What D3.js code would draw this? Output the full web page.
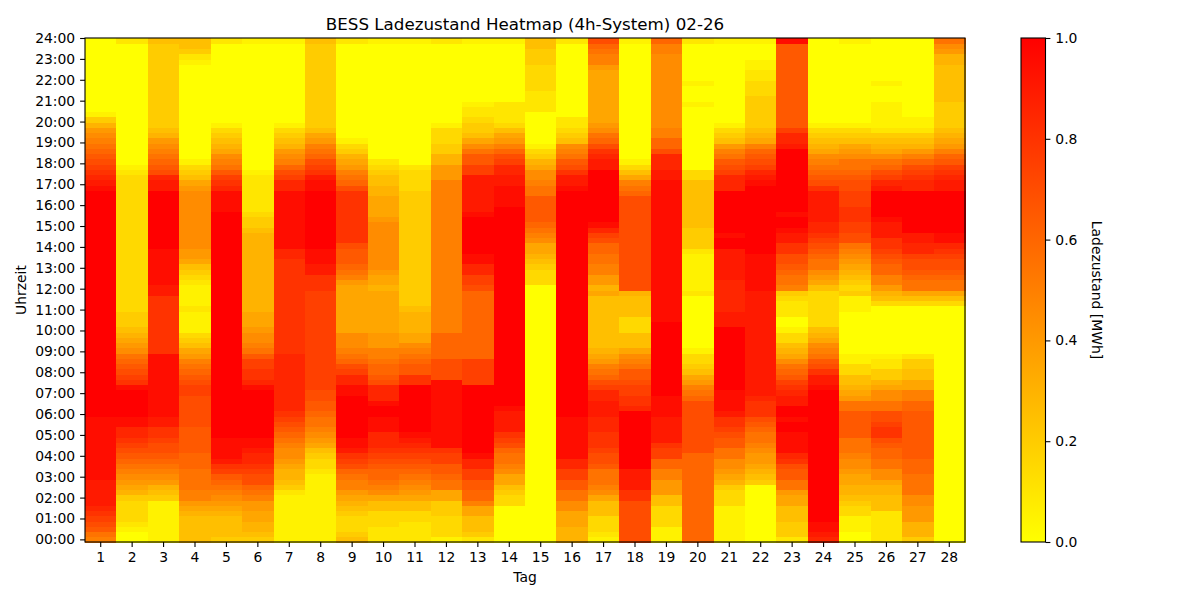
<!DOCTYPE html>
<html>
<head>
<meta charset="utf-8">
<script src="https://cdn.jsdelivr.net/npm/d3@7"></script>
<style>
  body { margin: 0; background: #fff; }
  text { font-family: "DejaVu Sans", sans-serif; fill: #000; }
</style>
</head>
<body>
<div id="chart"></div>
<script>
// state of charge per day, 96 quarter hours from 00:00 upward (groups of 4 = one hour)
// each char is a level 0..20 (value = level / 20 MWh)
var levels = "0123456789ABCDEFGHIJK";
var days = d3.range(1, 29);
var hourLabels = d3.range(0, 25).map(function(h) { return d3.format("02")(h) + ":00"; });
var cbTicks = [0, 0.2, 0.4, 0.6, 0.8, 1.0];

var week1 = [
  "ABDE FGHI IIII JJJJ JJJJ JJJJ KKKK KKKK KKKK KKKK KKKK KKKK KKKK KKKK KKKK KKKK KKKJ IHGF EDCB A986 4100 0000 0000 0000",
  "0012 3333 4678 9ABC DEFG HHJJ KKKK KJGF EDCB 9876 5444 3333 3333 3333 3333 3333 3333 3321 0000 0000 0000 0000 0000 0002",
  "1111 1111 4568 9ABC DEEF GGII JJJJ JJJJ JJJJ GGGG GGGG GGGI IJJJ JJJJ KKKK KKKK KKKI IHED CBA9 8654 4444 4444 4444 4445",
  "5555 5678 AABB BBCC CDDD DDEE EEEE FFED CBA8 7543 1111 2111 1234 5788 9999 9999 9998 7543 1000 0000 0000 0000 0001 2455",
  "4555 5678 9ABC DFGI JJJJ KKKK KKKK KKKK KKKK KKKK KKKK KKKK KKKK KKKK KKKK KKKJ JJJH GFDB A976 5431 0000 0000 0000 0002",
  "4566 7788 ABCE EFGH HIJJ KKKK KKKK KJHG GFFD BA99 8777 6666 6666 6666 6665 4432 2222 2210 0000 0000 0000 0000 0000 0001",
  "1111 1111 1245 6678 99AB CDEF GHHH HHHH HHHH GGGG GGGG GGGG GGGG GGHH JJJJ JJJJ JJJH HFEC A986 5431 0000 0000 0000 0001"
];
var week2 = [
  "1111 1111 1111 1233 4578 9ABB CDDE EFFF FFFF FFFF FFFF FFFF GGGI IJJJ KKKK KKKK KKKJ JIGF ECBA 8754 4444 4444 4444 4445",
  "5433 3456 78AA BCEF GIJJ KKKK KKKK JJHH FECB A999 7777 7777 78AB CDDD EGGG GGGG GGGE CBA8 7643 1000 0000 0000 0000 0002",
  "2223 3355 79AB CCDE FGHH HJJJ KKJH HHED CCBA A888 7777 7777 6778 9999 9999 9877 7766 5543 2000 0000 0000 0000 0000 0001",
  "2222 3355 789A BCDE FGHI JKKK KKKK KKGG DDCB A977 6666 5444 4444 4444 4444 4444 4443 3332 0000 0000 0000 0000 0000 0001",
  "1333 3444 77BB CDDF FGJJ JJJJ JJJJ JJJE EEEC CCCC AAAA AAAA AAAA AAAA AAAA AAAA AAAA A888 6644 3331 0000 0000 0000 0002",
  "2455 577A CCDD FFHH JKKK KKKK KKKK KKFF FFFC CCCC CCCC CCCC EFFH HJJK KKKK KKJI IIII IIFF DDB9 7544 3221 0000 0000 0001",
  "0000 0003 3457 79AB BCEF GIII IJKK KKKK KKKK KKKK KKKK KKKK KKKK KKKK KKKK KKKK JJJJ IIHH FECA 8753 2222 0000 0000 0001"
];
var week3 = [
  "0000 0000 0000 0000 0000 0000 0000 0000 0000 0000 0000 0000 0333 4567 79AB CDDD DDBB A997 6431 0000 0022 2233 3334 4455",
  "6667 7799 BBDD FFHH JJJJ JJJJ KKKK KKKK KKKK KKKK KKKK KKKK KKKK KKKK KKKK KKKK KKKJ IIGE DBA9 5432 2000 0000 0000 0002",
  "1233 3555 79AB BBDE EFGG GHHH IIIH HFEC BA87 6555 5555 5557 688A ABBC CEFH JKKK KKKK KKKI IHGE CB98 7777 7777 778A ABCE",
  "EEEE EEEE GGII IIKK KKKK KKKK KHGG FFED DBA9 7555 3335 5556 EEEE EEEE EEEE EEEE EECB A753 1000 0000 0000 0000 0000 0001",
  "1113 3335 5888 AACC FFGI IIII JJJJ KKKK KKKK KKKK KKJJ JJJJ JJJJ JJJJ JJJJ JJJJ JJJJ JIIH HHEC CAA9 9999 9999 9999 9AAC",
  "CCCC CCCC CCCC CCCC CEEE EEEE EEEC BA87 5433 1000 0000 0002 1111 1112 4444 5555 5555 5330 0000 0000 0001 0001 0000 0002",
  "1111 1113 3346 7899 BBDD EFGG IJJJ JKKK KKKK KKKK KIII HHHH HHII IIII KKJK KKKK KKKH HHFE DBA8 5431 0000 0000 0000 0001"
];
var week4 = [
  "0000 0000 0004 5678 89AB BCDE GGGH IIII IIII IIII IIII IIII JJJJ JJJK KKKK KKKK KKKK JIHF EDCA 7654 4444 4333 2211 0001",
  "2444 5557 78BB DDEG HJJJ JKKJ KKII HGFD CB97 6533 1002 2234 ABBC DEEG GIIJ KKJK KKKK KKKK KKKI HHFD DDDD DDDD DDDD DDDJ",
  "HIJJ KKKK KKKK KKKK KKKK KKKK KKKK KJII GEDB A976 5333 3333 5789 BBCD EFGH HIII IIIG EDCB A976 5431 0000 0000 0000 0000",
  "0011 1334 5667 7899 ABBB DDDD DBB8 7655 3311 0000 0000 1114 3456 789A BEEF FGGG FFFE EDCB B987 5431 0000 0000 0000 0001",
  "2222 2255 5667 99BB CCDE GGFE EBB9 9764 4221 0000 0000 0356 8AAC CDEF GGII IJKK KKKI HFEC B976 5421 1111 0001 0000 0000",
  "4666 8889 9BBB BCCC DDDD DDDD DCCA A775 5442 0000 0000 0357 BBCD EEFH HIIK KKKK KKKH HGFE CA86 5421 1000 0000 0000 0000",
  "0000 0000 0000 0000 0000 0000 0000 0000 0000 0000 0000 0357 BBCD EEFG HJJK KKKK KKKI IHGF DCA8 7654 4444 5555 5556 689B"
];

// flatten into cells {day, slot, value}
var cells = [];
week1.concat(week2, week3, week4).forEach(function(str, i) {
  str.replace(/ /g, "").split("").forEach(function(ch, s) {
    cells.push({ day: days[i], slot: s, value: levels.indexOf(ch) / 20 });
  });
});

var margin = {top: 38, left: 85},
    width = 880,
    height = 504;

var svg = d3.select("#chart").append("svg")
    .attr("width", 1200)
    .attr("height", 600);

var g = svg.append("g")
    .attr("transform", "translate(" + margin.left + "," + margin.top + ")");

var x = d3.scaleBand().domain(days).range([0, width]);
var y = d3.scaleBand().domain(d3.range(96)).range([height, 0]);
// hour ticks: 00:00 sits on the first row centre, 24:00 on the top edge
var yHour = d3.scaleLinear().domain([0, 24]).range([y(0) + y.bandwidth() / 2, 0]);
var color = d3.scaleLinear().domain([0, 1]).range(["#ffff00", "#ff0000"]);

g.append("g")
  .attr("shape-rendering", "crispEdges")
  .selectAll("rect")
  .data(cells)
  .join("rect")
    .attr("x", function(d) { return x(d.day); })
    .attr("y", function(d) { return y(d.slot); })
    .attr("width", x.bandwidth() + 0.5)
    .attr("height", y.bandwidth() + 0.5)
    .attr("fill", function(d) { return color(d.value); });

// frame
g.append("rect")
  .attr("width", width)
  .attr("height", height)
  .attr("fill", "none")
  .attr("stroke", "#000")
  .attr("stroke-width", 1.1);

// x axis
var xAxis = g.append("g")
  .attr("transform", "translate(0," + height + ")")
  .call(d3.axisBottom(x).tickSize(4.9).tickPadding(4.9).tickSizeOuter(0));
xAxis.select(".domain").remove();

// y axis
var yAxis = g.append("g")
  .call(d3.axisLeft(yHour).tickValues(d3.range(25))
    .tickFormat(function(h) { return hourLabels[h]; })
    .tickSize(4.9).tickPadding(4.9).tickSizeOuter(0));
yAxis.select(".domain").remove();

svg.selectAll(".tick text").attr("font-size", "13.9px").attr("font-family", "DejaVu Sans");
svg.selectAll(".tick line").attr("stroke-width", 1.1);

// titles
svg.append("text")
  .attr("x", margin.left + width / 2)
  .attr("y", 30)
  .attr("text-anchor", "middle")
  .attr("font-size", "16.7px")
  .text("BESS Ladezustand Heatmap (4h-System) 02-26");

svg.append("text")
  .attr("x", margin.left + width / 2)
  .attr("y", 582)
  .attr("text-anchor", "middle")
  .attr("font-size", "13.9px")
  .text("Tag");

svg.append("text")
  .attr("transform", "translate(26," + (margin.top + height / 2) + ") rotate(-90)")
  .attr("text-anchor", "middle")
  .attr("font-size", "13.9px")
  .text("Uhrzeit");

// colorbar
var cbX = 1021, cbW = 24.5;
var cb = d3.scaleLinear().domain([0, 1]).range([height, 0]);

var grad = svg.append("defs").append("linearGradient")
  .attr("id", "cbgrad")
  .attr("x1", 0).attr("y1", 1).attr("x2", 0).attr("y2", 0);
grad.selectAll("stop")
  .data(cbTicks)
  .join("stop")
    .attr("offset", function(d) { return d; })
    .attr("stop-color", function(d) { return color(d); });

var cbg = svg.append("g")
  .attr("transform", "translate(" + cbX + "," + margin.top + ")");
cbg.append("rect")
  .attr("width", cbW)
  .attr("height", height)
  .attr("fill", "url(#cbgrad)")
  .attr("stroke", "#000")
  .attr("stroke-width", 1.1);

var cbAxis = cbg.append("g")
  .attr("transform", "translate(" + cbW + ",0)")
  .call(d3.axisRight(cb).tickValues(cbTicks).tickFormat(d3.format(".1f"))
    .tickSize(4.9).tickPadding(4.9).tickSizeOuter(0));
cbAxis.select(".domain").remove();
cbAxis.selectAll("text").attr("font-size", "13.9px").attr("font-family", "DejaVu Sans");
cbAxis.selectAll("line").attr("stroke-width", 1.1);

svg.append("text")
  .attr("transform", "translate(1092," + (margin.top + height / 2) + ") rotate(90)")
  .attr("text-anchor", "middle")
  .attr("font-size", "13.9px")
  .text("Ladezustand [MWh]");
</script>
</body>
</html>
